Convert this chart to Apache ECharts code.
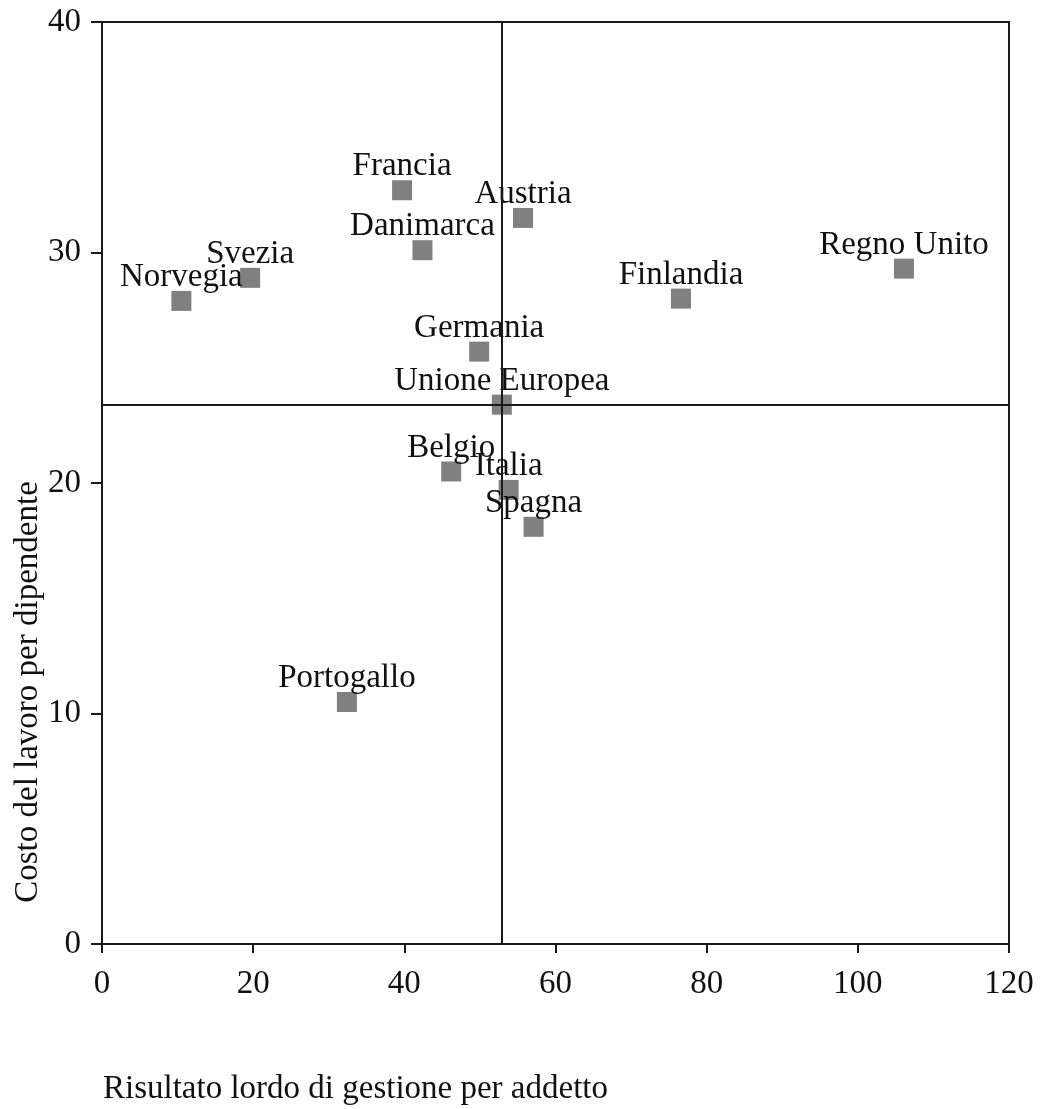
<!DOCTYPE html>
<html>
<head>
<meta charset="utf-8">
<script src="https://cdn.jsdelivr.net/npm/echarts@6/dist/echarts.min.js"></script>
<style>
  html, body { margin: 0; padding: 0; background: #ffffff; }
  #chart { width: 1041px; height: 1109px; }
</style>
</head>
<body>
<div id="chart"></div>
<script>
// ---- Data ----
var countries = ['Norvegia', 'Svezia', 'Francia', 'Danimarca', 'Austria', 'Finlandia', 'Regno Unito',
                 'Germania', 'Unione Europea', 'Belgio', 'Italia', 'Spagna', 'Portogallo'];
var risultatoLordo = [10.5, 19.6, 39.7, 42.4, 55.7, 76.6, 106.1, 49.9, 52.9, 46.2, 53.8, 57.1, 32.4];
var costoLavoro    = [27.9, 28.9, 32.7, 30.1, 31.5, 28.0, 29.3, 25.7, 23.4, 20.5, 19.7, 18.1, 10.5];
var referenceName = 'Unione Europea';
var xTicks = [0, 20, 40, 60, 80, 100, 120];
var yTicks = [0, 10, 20, 30, 40];
var xTitle = 'Risultato lordo di gestione per addetto';
var yTitle = 'Costo del lavoro per dipendente';

// ---- Build chart ----
var FONT = "'Liberation Serif', 'Times New Roman', serif";
var refIdx = countries.indexOf(referenceName);
var points = countries.map(function (c, i) {
  return { name: c, value: [risultatoLordo[i], costoLavoro[i]] };
});

var chart = echarts.init(document.getElementById('chart'), null, { renderer: 'canvas' });
chart.setOption({
  animation: false,
  backgroundColor: '#ffffff',
  grid: {
    left: 102, right: 32, top: 22, bottom: 165,
    show: true, borderColor: '#1a1a1a', borderWidth: 2, backgroundColor: 'transparent'
  },
  xAxis: {
    type: 'value',
    min: xTicks[0], max: xTicks[xTicks.length - 1], interval: xTicks[1] - xTicks[0],
    axisLine: { show: true, onZero: false, lineStyle: { color: '#1a1a1a', width: 2 } },
    axisTick: { show: true, inside: false, length: 9, lineStyle: { color: '#1a1a1a', width: 2 } },
    axisLabel: { show: true, margin: 24, color: '#111111', fontFamily: FONT, fontSize: 33 },
    splitLine: { show: false }
  },
  yAxis: {
    type: 'value',
    min: yTicks[0], max: yTicks[yTicks.length - 1], interval: yTicks[1] - yTicks[0],
    axisLine: { show: true, onZero: false, lineStyle: { color: '#1a1a1a', width: 2 } },
    axisTick: { show: true, inside: false, length: 11, lineStyle: { color: '#1a1a1a', width: 2 } },
    axisLabel: { show: true, margin: 21, color: '#111111', fontFamily: FONT, fontSize: 33 },
    splitLine: { show: false }
  },
  series: [{
    type: 'scatter',
    symbol: 'rect',
    symbolSize: 20,
    itemStyle: { color: '#808080', opacity: 1 },
    data: points,
    label: {
      show: true,
      position: 'top',
      distance: -3,
      formatter: '{b}',
      color: '#111111',
      opacity: 1,
      fontFamily: FONT,
      fontSize: 33
    },
    emphasis: { disabled: true },
    markLine: {
      silent: true,
      symbol: 'none',
      label: { show: false },
      lineStyle: { color: '#1a1a1a', width: 2, type: 'solid', opacity: 1 },
      data: [
        { xAxis: risultatoLordo[refIdx] },
        { yAxis: costoLavoro[refIdx] }
      ],
      z: 10
    }
  }],
  graphic: [
    {
      type: 'text',
      x: 28, y: 692,
      rotation: Math.PI / 2,
      style: {
        text: yTitle, fill: '#111111', font: '33px ' + FONT,
        align: 'center', verticalAlign: 'middle'
      }
    },
    {
      type: 'text',
      x: 103, y: 1089,
      style: {
        text: xTitle, fill: '#111111', font: '33px ' + FONT,
        align: 'left', verticalAlign: 'middle'
      }
    }
  ]
});
</script>
</body>
</html>
